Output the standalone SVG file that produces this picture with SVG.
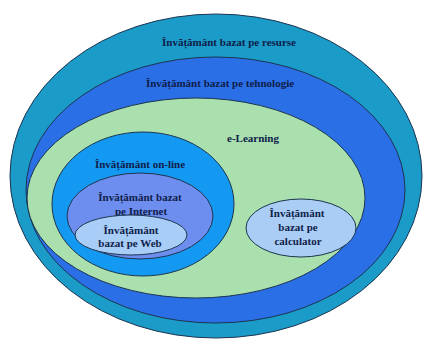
<svg xmlns="http://www.w3.org/2000/svg" width="427" height="340" viewBox="0 0 427 340">
  <style>
    .ring { stroke: #1c3550; stroke-width: 1; }
    .lbl { font-family: "Liberation Serif", "Times New Roman", serif; font-weight: bold; font-size: 11px; fill: #0f1d4a; text-anchor: middle; }
  </style>
  <rect width="427" height="340" fill="#ffffff"/>

  <g id="resurse">
    <ellipse class="ring" cx="216" cy="176" rx="206" ry="162" fill="#1b9bc8"/>
    <text class="lbl" x="229" y="45.5">Învățământ bazat pe resurse</text>
  </g>

  <g id="tehnologie">
    <ellipse class="ring" cx="215.5" cy="190" rx="189.5" ry="133" fill="#2b6fe6"/>
    <text class="lbl" x="220" y="86.5">Învățământ bazat pe tehnologie</text>
  </g>

  <g id="elearning">
    <ellipse class="ring" cx="196" cy="198" rx="169" ry="100" fill="#aadfae"/>
    <text class="lbl" x="253" y="141.5">e-Learning</text>
  </g>

  <g id="online">
    <ellipse class="ring" cx="143" cy="204" rx="91" ry="72" fill="#1499f2"/>
    <text class="lbl" x="140" y="167.5">Învățământ on-line</text>
  </g>

  <g id="internet">
    <ellipse class="ring" cx="140" cy="216" rx="73" ry="43" fill="#6e8eef"/>
    <text class="lbl" x="140" y="200.5">Învățământ bazat</text>
    <text class="lbl" x="141" y="214.5">pe Internet</text>
  </g>

  <g id="web">
    <ellipse class="ring" cx="131" cy="235" rx="56" ry="20" fill="#a8cdf6"/>
    <text class="lbl" x="131" y="233.5">Învățământ</text>
    <text class="lbl" x="130" y="246.5">bazat pe Web</text>
  </g>

  <g id="calculator">
    <ellipse class="ring" cx="301" cy="228" rx="55" ry="29" fill="#a9cdf4"/>
    <text class="lbl" x="297" y="216.5">Învățământ</text>
    <text class="lbl" x="298" y="230.5">bazat pe</text>
    <text class="lbl" x="298" y="244.5">calculator</text>
  </g>

  <g id="connectors"/>
</svg>
